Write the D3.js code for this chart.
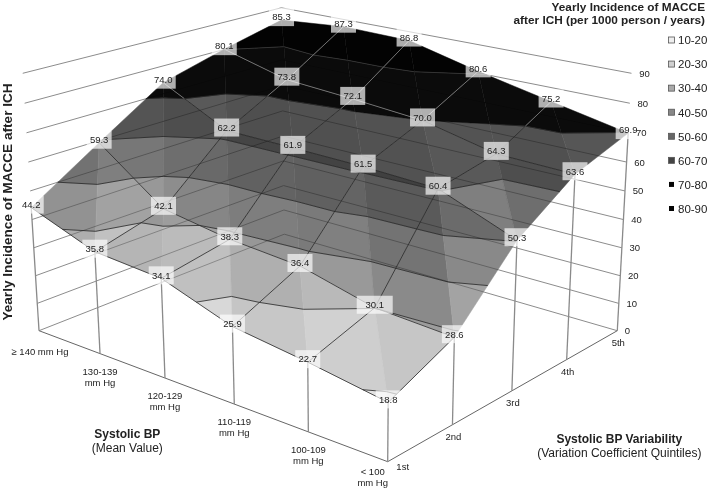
<!DOCTYPE html>
<html><head><meta charset="utf-8">
<script src="https://cdnjs.cloudflare.com/ajax/libs/d3/7.8.5/d3.min.js"></script>
<style>
html,body{margin:0;padding:0;background:#fff}
svg{display:block}
text{font-family:"Liberation Sans",Arial,sans-serif;fill:#222}
</style></head><body>
<script>
const bpLevels = ["≥ 140 mm Hg","130-139 mm Hg","120-129 mm Hg","110-119 mm Hg","100-109 mm Hg","< 100 mm Hg"];
const quintiles = ["1st","2nd","3rd","4th","5th"];
const q1 = [44.2,35.8,34.1,25.9,22.7,18.8];
const q2 = [59.3,42.1,38.3,36.4,30.1,28.6];
const q3 = [74.0,62.2,61.9,61.5,60.4,50.3];
const q4 = [80.1,73.8,72.1,70.0,64.3,63.6];
const q5 = [85.3,87.3,86.8,80.6,75.2,69.9];
const rows = [q1,q2,q3,q4,q5];
const zTicks = [0,10,20,30,40,50,60,70,80,90];
const bandLabels = ["10-20","20-30","30-40","40-50","50-60","60-70","70-80","80-90"];
const bandFill = ["#e6e6e6","#d2d2d2","#bababa","#9c9c9c","#7a7a7a","#565656","#0b0b0b","#030303"];
const swatchFill = ["#eeeeee","#d0d0d0","#aaaaaa","#888888","#666666","#444444","#050505","#050505"];

const W=709,H=488;
const svg=d3.select("body").append("svg").attr("width",W).attr("height",H);

const uS=d3.scalePoint().domain(bpLevels).range([0,1]);
const vS=d3.scalePoint().domain(quintiles).range([0,1]);
const sS=d3.scaleLinear().domain([0,90]).range([0,1]);

// perspective camera
function project(u,v,z){
  const s=sS(z);
  const w=1-0.1515*u+0.1515*v-0.05*s;
  return [(39+289.96*u+288.34*v-17.4*s)/w,(330.7+61.05*u-61.05*v-261.07*s)/w];
}
const P=p=>project(p[0],p[1],p[2]);
const line3=d3.line().x(d=>P(d)[0]).y(d=>P(d)[1]);

const nodes=rows.map((r,j)=>r.map((z,i)=>[uS(bpLevels[i]),vS(quintiles[j]),z]));

const tris=[];
for(let j=quintiles.length-2;j>=0;j--){
  for(let i=0;i<bpLevels.length-1;i++){
    const a=nodes[j][i],b=nodes[j][i+1],c=nodes[j+1][i],d_=nodes[j+1][i+1];
    tris.push({pts:[a,b,c],p:b[2]-a[2],q:c[2]-a[2]});
    tris.push({pts:[d_,c,b],p:d_[2]-c[2],q:d_[2]-b[2]});
  }
}
function shade(t){
  const S=40,n=[-t.p,-t.q,S],L=[0.5,0.3,1];
  const dot=n[0]*L[0]+n[1]*L[1]+n[2]*L[2];
  const x=dot/Math.hypot(...n);
  return Math.min(1.04,0.3+0.7*x);
}
function clip(poly,level,keepAbove){
  const out=[];
  for(let k=0;k<poly.length;k++){
    const A=poly[k],B=poly[(k+1)%poly.length];
    const ia=keepAbove?A[2]>=level:A[2]<=level, ib=keepAbove?B[2]>=level:B[2]<=level;
    if(ia) out.push(A);
    if(ia!==ib){
      const f=(level-A[2])/(B[2]-A[2]);
      out.push([A[0]+f*(B[0]-A[0]),A[1]+f*(B[1]-A[1]),level]);
    }
  }
  return out;
}
const facets=[],contours=[];
const levels=d3.range(10,100,10);
tris.forEach(t=>{
  const f=shade(t);
  bandFill.forEach((col,b)=>{
    let poly=clip(t.pts,levels[b],true);
    if(poly.length) poly=clip(poly,levels[b+1],false);
    if(poly.length>2){
      const c=d3.rgb(col),g=b>=6?1:f;
      facets.push({poly,color:d3.rgb(Math.min(255,c.r*g),Math.min(255,c.g*g),Math.min(255,c.b*g)).formatHex()});
    }
  });
  levels.forEach(l=>{
    const seg=[];
    t.pts.forEach((A,k)=>{
      const B=t.pts[(k+1)%3];
      if((A[2]-l)*(B[2]-l)<0){const g=(l-A[2])/(B[2]-A[2]);seg.push([A[0]+g*(B[0]-A[0]),A[1]+g*(B[1]-A[1]),l]);}
    });
    if(seg.length===2) contours.push({seg,l});
  });
});

const gridPath=z=>[[0,0,z],[0,1,z],[1,1,z]];
const gGrid=svg.append("g");
function drawGrid(g,col,w){
  g.selectAll("path").data(zTicks).join("path")
   .attr("d",z=>line3(gridPath(z))).attr("fill","none").attr("stroke",col).attr("stroke-width",w);
}
drawGrid(gGrid,"#8c8c8c",1);

svg.append("path").attr("d",line3([[0,0,0],[1,0,0],[1,1,0]])).attr("fill","none").attr("stroke","#666").attr("stroke-width",1);

const edgeNodes=[...nodes[0],...nodes.map(r=>r[r.length-1]).slice(1)];
svg.append("g").selectAll("path").data(edgeNodes).join("path")
  .attr("d",n=>line3([[n[0],n[1],0],n])).attr("stroke","#8a8a8a").attr("stroke-width",1.3).attr("fill","none");

const polyPath=p=>"M"+p.map(P).map(q=>q.join(",")).join("L")+"Z";
svg.append("g").selectAll("path").data(facets).join("path")
  .attr("d",d=>polyPath(d.poly)).attr("fill",d=>d.color).attr("stroke",d=>d.color).attr("stroke-width",0.5);

const defs=svg.append("defs");
defs.append("clipPath").attr("id","surf").selectAll("path").data(tris).join("path").attr("d",t=>polyPath(t.pts));
const gSee=svg.append("g").attr("clip-path","url(#surf)").style("mix-blend-mode","multiply");
drawGrid(gSee,"#b8b8b8",1);

svg.append("g").selectAll("path").data(contours).join("path")
  .attr("d",d=>line3(d.seg)).attr("fill","none")
  .attr("stroke",d=>d.l>=80?"#3c3c3c":"#262626").attr("stroke-width",0.8);

const wires=[];
function addWire(A,B){
  const split=70;
  if((A[2]-split)*(B[2]-split)<0){
    const g=(split-A[2])/(B[2]-A[2]);
    const M=[A[0]+g*(B[0]-A[0]),A[1]+g*(B[1]-A[1]),split];
    wires.push({seg:[A,M],hi:A[2]>split});wires.push({seg:[M,B],hi:B[2]>split});
  } else wires.push({seg:[A,B],hi:A[2]>=split&&B[2]>=split});
}
nodes.forEach((r,j)=>r.forEach((n,i)=>{
  // outer rim is left without a wire except along the two front edges
  if(i<r.length-1 && j<nodes.length-1) addWire(n,r[i+1]);
  if(j<nodes.length-1 && i>0 && (i<r.length-1 || j===0)) addWire(n,nodes[j+1][i]);
}));
svg.append("g").selectAll("path").data(wires).join("path")
  .attr("d",d=>line3(d.seg)).attr("fill","none")
  .attr("stroke",d=>d.hi?"#8a8a8a":"#262626").attr("stroke-width",0.8);

const flat=nodes.flat();
const gL=svg.append("g").selectAll("g").data(flat).join("g")
  .attr("transform",n=>{const p=P(n);return `translate(${p[0]},${p[1]-3})`;});
gL.append("rect").attr("x",d=>d[2]===30.1?-18:-12.5).attr("y",-9).attr("width",d=>d[2]===30.1?36:25).attr("height",18)
  .attr("fill","#fff").attr("fill-opacity",0.68);
gL.append("text").attr("text-anchor","middle").attr("y",3.3).attr("font-size",9.5).text(d=>d[2].toFixed(1));

svg.append("g").selectAll("text").data(zTicks).join("text")
  .attr("x",z=>project(1,1,z)[0]+(z===0?10:13)).attr("y",z=>project(1,1,z)[1]+3.5)
  .attr("text-anchor","middle").attr("font-size",9.5).text(d=>d);

const gB=svg.append("g").selectAll("text").data(bpLevels).join("text")
  .attr("text-anchor","middle").attr("font-size",9.5);
gB.each(function(d,i){
  const p=project(uS(d),0,0),t=d3.select(this);
  if(i===0){t.attr("x",p[0]+1).attr("y",p[1]+24).text(d);return;}
  const parts=d.split(/ (?=mm)/);
  const dx=i===5?-15:0, dy=i===5?13:21;
  parts.forEach((s,k)=>t.append("tspan").attr("x",p[0]+dx).attr("y",p[1]+dy+k*11).text(s));
});
svg.append("g").selectAll("text").data(quintiles).join("text")
  .attr("text-anchor","middle").attr("font-size",9.5)
  .attr("x",(d,i)=>project(1,vS(d),0)[0]+(i===0?15:1))
  .attr("y",(d,i)=>project(1,vS(d),0)[1]+(i===0?8:15)).text(d=>d);

const T=(x,y,s,fs,b,anchor,rot)=>{
  const t=svg.append("text").attr("font-size",fs).attr("font-weight",b?"bold":"normal").attr("text-anchor",anchor||"middle").text(s);
  if(rot) t.attr("transform",`translate(${x},${y}) rotate(-90)`); else t.attr("x",x).attr("y",y);
};
T(705,10.5,"Yearly Incidence of MACCE",11.8,true,"end");
T(705,23.5,"after ICH (per 1000 person / years)",11.8,true,"end");
T(12,202,"Yearly Incidence of MACCE after ICH",13.6,true,"middle",true);
T(127.3,438,"Systolic BP",12,true);
T(127.3,452,"(Mean Value)",12,false);
T(619.3,443,"Systolic BP Variability",12,true);
T(619.3,457,"(Variation Coefficient Quintiles)",12,false);

const lgY=d3.scaleLinear().domain([0,7]).range([40,208.5]);
const lg=svg.append("g").selectAll("g").data(bandLabels).join("g").attr("transform",(d,i)=>`translate(0,${lgY(i)})`);
lg.append("rect").attr("x",(d,i)=>i>5?669:668.5).attr("y",(d,i)=>i>5?-2.5:-3).attr("width",(d,i)=>i>5?5:6).attr("height",(d,i)=>i>5?5:6)
  .attr("fill",(d,i)=>swatchFill[i]).attr("stroke",(d,i)=>i>5?"none":"#555").attr("stroke-width",0.8);
lg.append("text").attr("x",678).attr("y",4.3).attr("font-size",11.5).text(d=>d);
</script>
</body></html>
